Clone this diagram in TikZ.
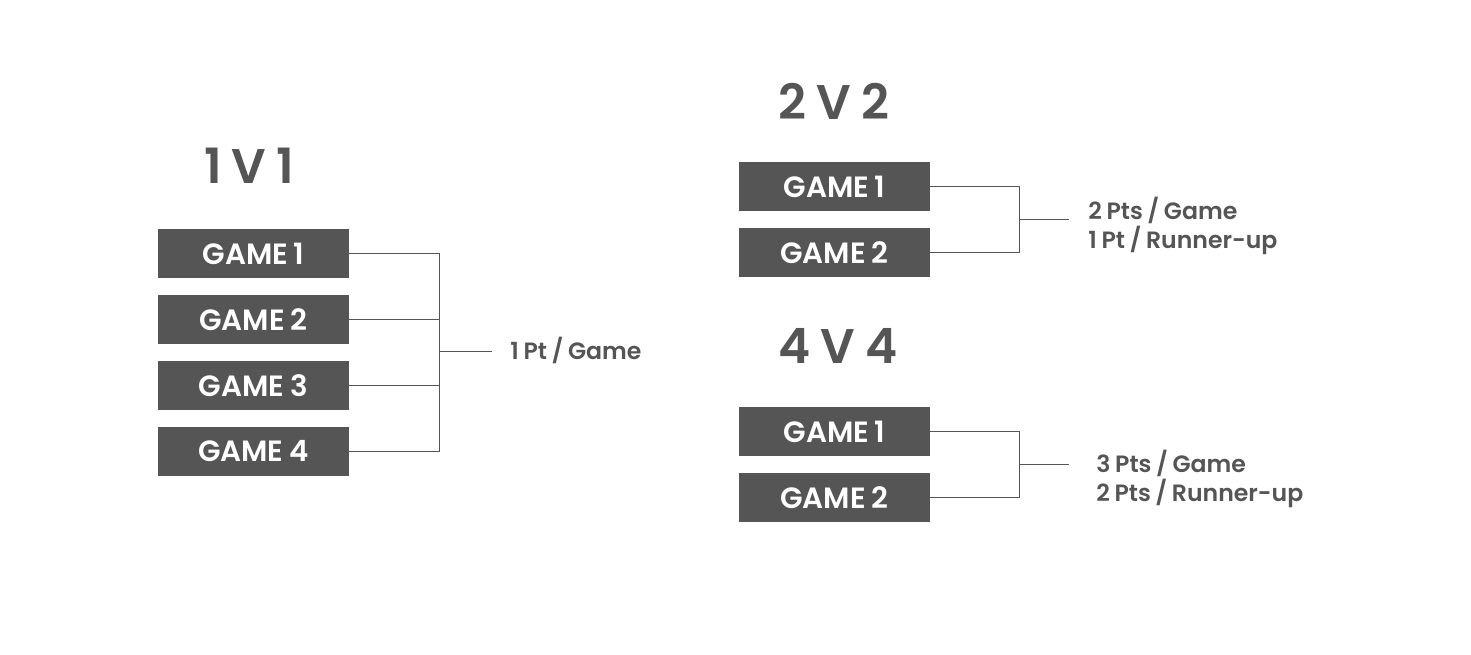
\documentclass[tikz,border=0pt]{standalone}
\usepackage{fontspec}
\setmainfont{Poppins}
\newfontfamily\boxfont{Poppins}[UprightFont=* SemiBold]
\newfontfamily\notefont{Poppins}[UprightFont=* SemiBold, WordSpace=0.85]
\usetikzlibrary{positioning}
\definecolor{slate}{HTML}{555555}
\tikzset{game/.style={fill=slate, text=white, minimum width=143.25pt, minimum height=36.75pt, inner sep=0pt, font=\boxfont\fontsize{22}{22}\selectfont},
         title/.style={text=slate, inner sep=0pt, font=\boxfont\fontsize{36.5}{36.5}\selectfont},
         note/.style={text=slate, inner sep=0pt, anchor=west, align=left, font=\notefont\fontsize{17.7}{21.75}\selectfont},
         wire/.style={draw=slate, line width=0.75pt},
        }
\begin{document}
\begin{tikzpicture}[x=0.75pt,y=-0.75pt]
        \useasboundingbox (0,0) rectangle (1471,655);

        % 1 v 1
        \node[title](t1)at(249,166){1 V 1};
        \node[game](a1)at(253.5,253.5){GAME 1};
        \node[game](a2)at(253.5,319.5){GAME 2};
        \node[game](a3)at(253.5,385.5){GAME 3};
        \node[game](a4)at(253.5,451.5){GAME 4};
        \coordinate(ja)at(439,352);
        \coordinate(ea)at(492,352);
        \node[note](pa)at(510,350){1 Pt / Game};

        \draw[wire](a1.east)-|(ja);
        \draw[wire](a2.east)-|(ja);
        \draw[wire](a3.east)-|(ja);
        \draw[wire](a4.east)-|(ja);
        \draw[wire](ja)--(ea);

        % 2 v 2
        \node[title](t2)at(834,101){2 V 2};
        \node[game](b1)at(834.5,186.5){GAME 1};
        \node[game](b2)at(834.5,252.5){GAME 2};
        \coordinate(jb)at(1019,219.5);
        \coordinate(eb)at(1069,219.5);
        \node[note](pb)at(1088,226){2 Pts / Game\\1 Pt / Runner-up};

        \draw[wire](b1.east)-|(jb);
        \draw[wire](b2.east)-|(jb);
        \draw[wire](jb)--(eb);

        % 4 v 4
        \node[title](t4)at(838,346){4 V 4};
        \node[game](c1)at(834.5,431.5){GAME 1};
        \node[game](c2)at(834.5,497.5){GAME 2};
        \coordinate(jc)at(1019,464.5);
        \coordinate(ec)at(1069,464.5);
        \node[note](pc)at(1096,479){3 Pts / Game\\2 Pts / Runner-up};

        \draw[wire](c1.east)-|(jc);
        \draw[wire](c2.east)-|(jc);
        \draw[wire](jc)--(ec);
    \end{tikzpicture}
\end{document}
